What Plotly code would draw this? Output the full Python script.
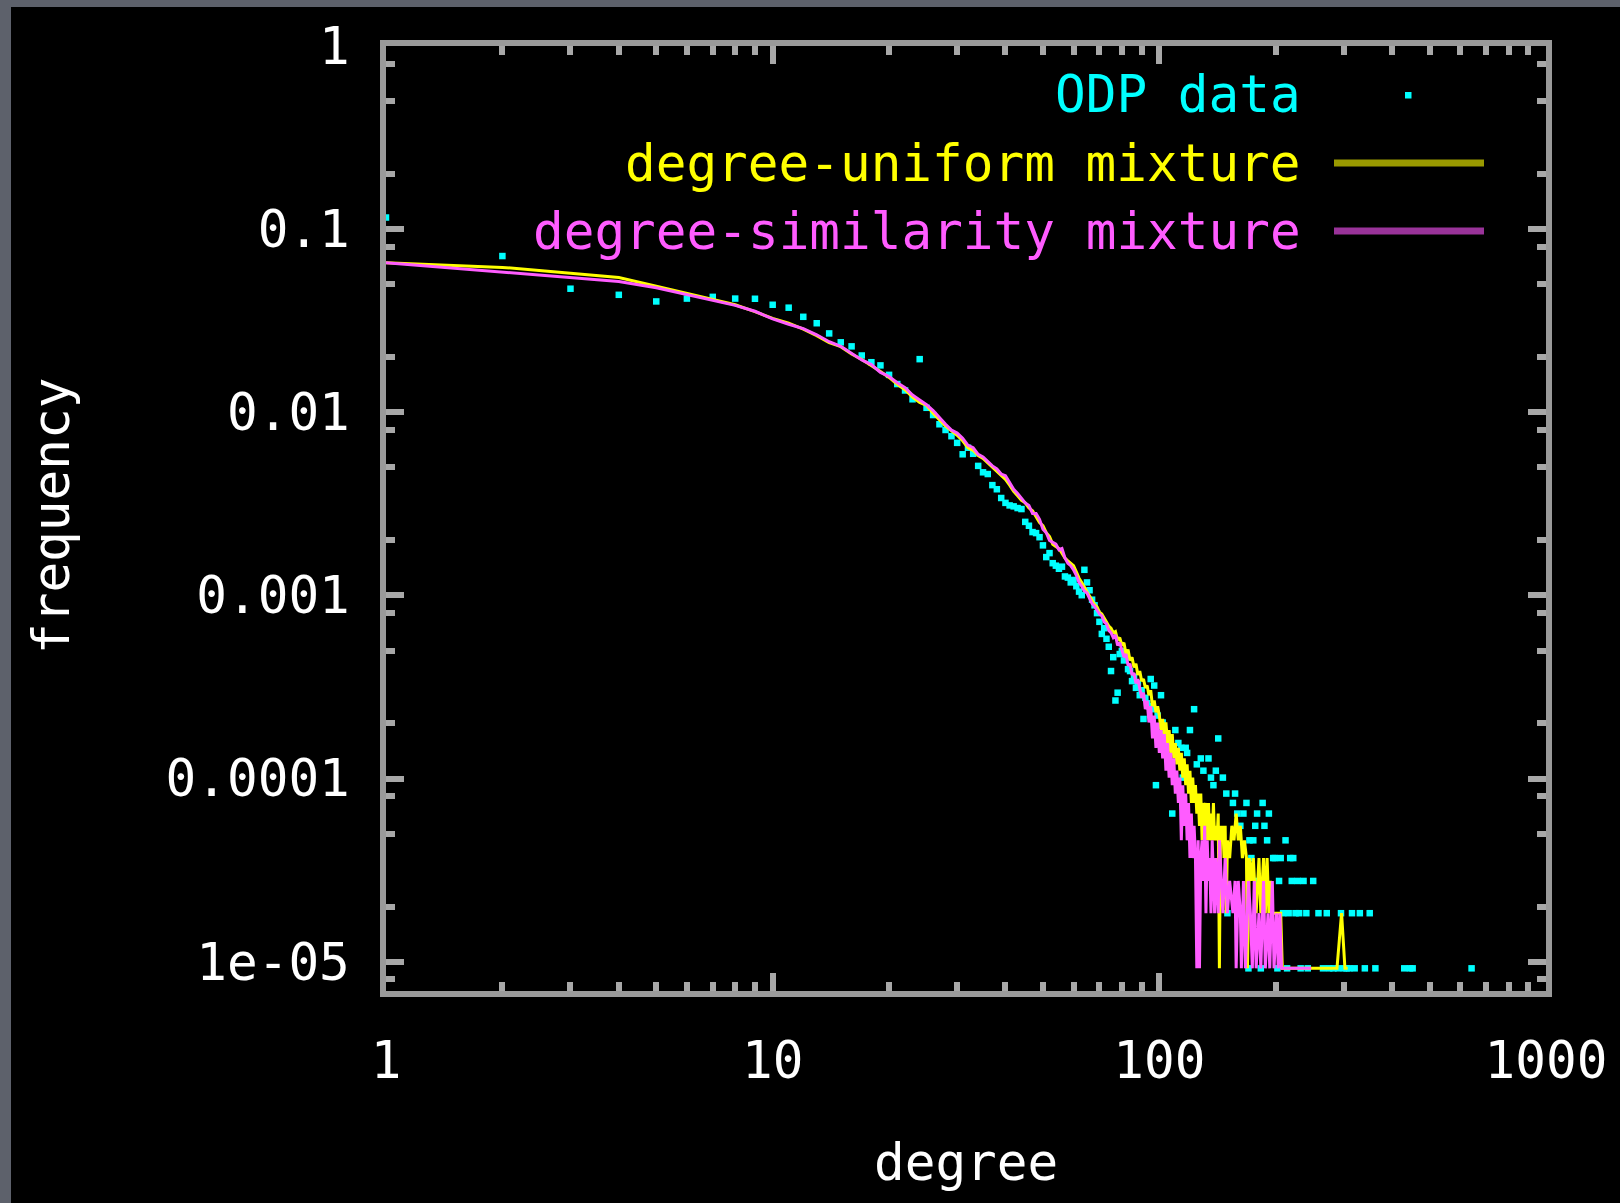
import plotly.graph_objects as go

# Degree distribution of the ODP graph and of two generative mixtures.
# Counts are numbers of nodes with a given degree; frequency = count / NODE_TOTAL.
NODE_TOTAL = 108700

odp_degree = list(range(1, 108)) + [
    108, 110, 112, 114, 115, 117, 118, 120, 123, 125, 128, 130, 134, 136, 138,
    140, 142, 146, 149, 150, 155, 157, 159, 162, 165, 168, 170, 171, 173, 175,
    177, 178, 179, 183, 185, 187, 190, 192, 197, 199, 202, 204, 206, 209, 212,
    214, 216, 218, 220, 222, 225, 228, 230, 232, 236, 240, 242, 250, 258, 265,
    271, 275, 282, 290, 295, 300, 305, 310, 315, 320, 330, 340, 350, 362, 430,
    445, 452, 642]
odp_degree = odp_degree[:103] + odp_degree[107:]
odp_count = [
    12580, 7750, 5140, 4760, 4380, 4540, 4640, 4540, 4530, 4200,
    4050, 3610, 3330, 2930, 2620, 2490, 2220, 2040, 1960, 1740,
    1550, 1430, 1280, 2120, 1150, 1050, 935, 870, 805, 740,
    641, 696, 645, 554, 511, 500, 435, 413, 370, 348,
    337, 333, 326, 322, 274, 261, 241, 238, 226, 204,
    176, 185, 163, 158, 152, 156, 138, 136, 128, 132,
    122, 114, 109, 150, 128, 116, 103, 96, 87, 78,
    67, 72, 63, 57, 42, 50, 29, 32, 52, 54,
    48, 50, 43, 42, 37, 39, 34, 36, 31, 33,
    23, 30, 28, 27, 38, 26, 35, 10, 24, 21,
    31, 22, 19,
    7, 20, 17, 16,
    11, 16, 15, 20, 26, 13, 14, 12, 14, 11, 10, 12, 18, 11, 9,
    2, 8, 9, 7, 6, 7, 8, 1, 5, 4, 5, 6, 3, 7, 1,
    8, 6, 5, 7, 4, 4, 1, 3, 4, 2, 5, 1, 2, 4, 3,
    4, 2, 3, 2, 1, 3, 2, 1, 3, 2, 1, 2, 1, 1, 1,
    2, 1, 1, 1, 2, 1, 2, 1, 2, 1, 1, 1, 1, 1, 1,
    1, 16, 1]

uniform_degree = list(range(1, 143)) + [
    143, 144, 145, 146, 147, 148, 149, 150, 152, 154, 156, 158, 160, 162, 164,
    166, 168, 169, 171, 173, 175, 178, 181, 183, 186, 188, 190, 192, 194, 196,
    200, 203, 206, 208, 216, 226, 238, 250, 262, 275, 288, 296, 302, 307]
uniform_count = [
    7120, 6720, 6250, 5920, 5300, 4830, 4490, 4200, 3850, 3540,
    3330, 3090, 2850, 2610, 2480, 2260, 2110, 1960, 1815, 1685,
    1545, 1445, 1315, 1230, 1185, 1075, 990, 913, 860, 815,
    760, 696, 674, 630, 609, 576, 544, 511, 489, 467,
    435, 402, 380, 359, 348, 326, 315, 293, 272, 261,
    239, 228, 207, 201, 196, 185, 174, 168, 163, 158,
    146, 135, 128, 120, 114, 108, 102, 97, 94, 88,
    86, 82, 78, 74, 72, 68, 69, 62, 64, 58,
    60, 52, 55, 48, 50, 44, 46, 40, 42, 37,
    38, 34, 35, 31, 33, 27, 29, 25, 27, 24,
    20, 23, 18, 22, 17, 20, 15, 19, 14, 17,
    13, 16, 12, 15, 11, 14, 10, 13, 9, 12,
    8, 11, 8, 10, 7, 9, 6, 9, 5, 8,
    6, 8, 5, 8, 5, 7, 5, 8, 5, 6,
    5, 7,
    1, 6, 5, 6, 4, 6, 2, 5, 4, 6, 5, 7, 5, 6, 4,
    5, 4, 1, 4, 3, 4, 2, 4, 2, 4, 2, 4, 2, 3, 2,
    2, 2, 2, 1, 1, 1, 1, 1, 1, 1, 1, 2, 1, 1]

similarity_degree = list(range(1, 141)) + [
    142, 143, 145, 146, 148, 150, 152, 155, 157, 158, 160, 162, 163, 165, 167,
    170, 172, 174, 176, 178, 181, 183, 186, 188, 191, 193, 196, 198, 201, 203,
    205, 207, 215, 225, 235, 247]
similarity_count = [
    7120, 6330, 5920, 5630, 5200, 4780, 4470, 4170, 3870, 3520,
    3290, 3110, 2880, 2640, 2490, 2290, 2100, 1980, 1795, 1705,
    1575, 1480, 1350, 1270, 1195, 1110, 1010, 935, 870, 837,
    783, 717, 696, 641, 620, 587, 554, 533, 500, 489,
    446, 413, 391, 370, 348, 337, 304, 304, 283, 250,
    239, 217, 212, 207, 193, 196, 174, 163, 158, 150,
    140, 128, 122, 115, 112, 104, 98, 95, 90, 86,
    84, 78, 76, 70, 68, 64, 66, 58, 60, 54,
    50, 52, 45, 46, 40, 41, 36, 38, 33, 30,
    32, 26, 29, 22, 27, 18, 24, 16, 22, 15,
    20, 14, 19, 12, 17, 11, 15, 10, 14, 9,
    12, 8, 11, 5, 10, 6, 9, 5, 8, 4,
    7, 4, 6, 4, 1, 5, 1, 4, 5, 3,
    6, 2, 5, 3, 4, 2, 5, 3, 2, 4,
    2, 5, 3, 2, 4, 2, 3, 2, 3, 1, 3, 2, 1, 3, 1,
    3, 2, 1, 3, 1, 2, 1, 3, 1, 2, 1, 3, 1, 2, 1,
    2, 1, 1, 1, 1, 1]

series_names = ["ODP data", "degree-uniform mixture", "degree-similarity mixture"]
series_colors = ["#00ffff", "#ffff00", "#ff5cff"]
legend_sample_colors = ["#00ffff", "#999900", "#993399"]

x_tick_vals = [1, 10, 100, 1000]
x_tick_text = ["1", "10", "100", "1000"]
y_tick_vals = [1, 0.1, 0.01, 0.001, 0.0001, 0.00001]
y_tick_text = ["1", "0.1", "0.01", "0.001", "0.0001", "1e-05"]
x_minor_vals = [m * 10 ** e for e in range(3) for m in range(2, 10)]
y_minor_vals = [m * 10.0 ** e for e in range(-6, 0) for m in (2, 5, 8)]
Y_MIN = 6.92e-6
y_minor_vals = [v for v in y_minor_vals if Y_MIN < v < 1]

# ---- page geometry (pixels) ----
FIG_W, FIG_H = 1620, 1203
M_L, M_R, M_T, M_B = 386, 74, 46, 212
PLOT_W = FIG_W - M_L - M_R
PLOT_H = FIG_H - M_T - M_B


def px_x(px):
    return (px - M_L) / PLOT_W


def px_y(py):
    return (FIG_H - M_B - py) / PLOT_H


FONT = "DejaVu Sans Mono"
FSIZE = 51


def freq(counts):
    return [c / NODE_TOTAL for c in counts]


fig = go.Figure()
fig.add_trace(go.Scatter(
    x=odp_degree, y=freq(odp_count), mode="markers", name=series_names[0],
    marker=dict(symbol="square", size=6.5, color=series_colors[0], line=dict(width=0)),
    showlegend=False))
fig.add_trace(go.Scatter(
    x=uniform_degree, y=freq(uniform_count), mode="lines", name=series_names[1],
    line=dict(color=series_colors[1], width=3), showlegend=False))
fig.add_trace(go.Scatter(
    x=similarity_degree, y=freq(similarity_count), mode="lines", name=series_names[2],
    line=dict(color=series_colors[2], width=3), showlegend=False))

axis_common = dict(
    type="log", showgrid=False, zeroline=False,
    showline=True, linecolor="#9a9a9a", linewidth=6, mirror="allticks",
    ticks="inside", ticklen=18, tickwidth=6, tickcolor="#a8a8a8",
    tickfont=dict(family=FONT, size=FSIZE, color="#ffffff"),
)

fig.update_xaxes(
    **axis_common, range=[0, 3], tickmode="array",
    tickvals=x_tick_vals, ticktext=x_tick_text, ticklabelstandoff=20,
    minor=dict(tickmode="array", tickvals=x_minor_vals, ticks="inside",
               ticklen=9, tickwidth=6, tickcolor="#a8a8a8", showgrid=False),
)
fig.update_yaxes(
    **axis_common, range=[-5.16, 0], tickmode="array",
    tickvals=y_tick_vals, ticktext=y_tick_text, ticklabelstandoff=20,
    minor=dict(tickmode="array", tickvals=y_minor_vals, ticks="inside",
               ticklen=9, tickwidth=6, tickcolor="#a8a8a8", showgrid=False),
)

annotations = [
    dict(text="degree", x=px_x(965.5), y=px_y(1162), xref="paper", yref="paper",
         xanchor="center", yanchor="middle", showarrow=False,
         font=dict(family=FONT, size=FSIZE, color="#ffffff")),
    dict(text="frequency", x=px_x(51), y=px_y(516), xref="paper", yref="paper",
         xanchor="center", yanchor="middle", textangle=-90, showarrow=False,
         font=dict(family=FONT, size=FSIZE, color="#ffffff")),
]

# gnuplot-style key: right-aligned label followed by its sample
legend_rows_px = [94, 163, 231]
shapes = [
    dict(type="rect", xref="paper", yref="paper", x0=px_x(0), x1=px_x(11),
         y0=px_y(FIG_H), y1=px_y(0), fillcolor="#5d616b", line=dict(width=0)),
    dict(type="rect", xref="paper", yref="paper", x0=px_x(0), x1=px_x(FIG_W),
         y0=px_y(7), y1=px_y(0), fillcolor="#5d616b", line=dict(width=0)),
]
for i, (name, col) in enumerate(zip(series_names, series_colors)):
    row = legend_rows_px[i]
    annotations.append(dict(
        text=name, x=px_x(1303), y=px_y(row), xref="paper", yref="paper",
        xanchor="right", yanchor="middle", showarrow=False,
        font=dict(family=FONT, size=FSIZE, color=col)))
    if i == 0:
        shapes.append(dict(type="rect", xref="paper", yref="paper",
                           x0=px_x(1405), x1=px_x(1411.5), y0=px_y(98.5), y1=px_y(92),
                           fillcolor=legend_sample_colors[0], line=dict(width=0)))
    else:
        shapes.append(dict(type="line", xref="paper", yref="paper",
                           x0=px_x(1334), x1=px_x(1484), y0=px_y(row), y1=px_y(row),
                           line=dict(color=legend_sample_colors[i], width=7)))

fig.update_layout(
    width=FIG_W, height=FIG_H,
    margin=dict(l=M_L, r=M_R, t=M_T, b=M_B, pad=0),
    paper_bgcolor="#000000", plot_bgcolor="#000000",
    showlegend=False,
    annotations=annotations, shapes=shapes,
)

fig.write_html("out.html")
